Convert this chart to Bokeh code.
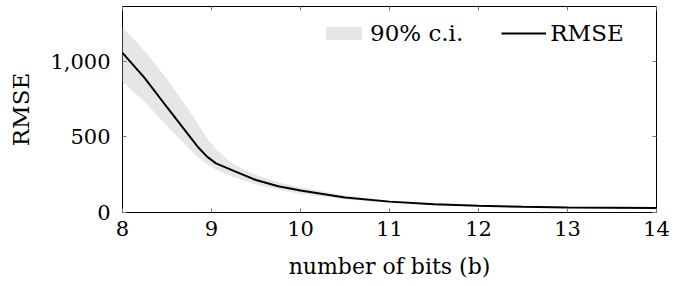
from bokeh.plotting import figure
from bokeh.models import (LinearAxis, FixedTicker, NumeralTickFormatter, Range1d,
                          Legend, LegendItem)
from bokeh.embed import file_html
from bokeh.resources import INLINE

# ---- data ----
bits = [8, 8.25, 8.5, 8.75, 8.85, 8.95, 9.05, 9.15, 9.25, 9.5, 9.75, 10, 10.5, 11, 11.5, 12, 12.5, 13, 13.5, 14]
rmse = [1057, 890, 697, 508, 432, 370, 325, 300, 276, 215, 174, 145, 100, 72, 55, 45, 38, 33, 31, 29]
ci_upper = [1229, 1070, 884, 676, 584, 492, 418, 368, 318, 248, 200, 168, 113, 80, 62, 50, 42, 37, 34, 32]
ci_lower = [865, 730, 572, 420, 365, 320, 285, 258, 235, 185, 150, 124, 88, 63, 48, 40, 34, 30, 28, 26]
x_ticks = [8, 9, 10, 11, 12, 13, 14]
y_ticks = [0, 500, 1000]

FONT = "DejaVu Serif"

p = figure(width=698, height=286, output_backend="svg", toolbar_location=None,
           x_range=Range1d(8, 14), y_range=Range1d(0, 1364),
           min_border_left=122, min_border_right=42, min_border_top=6, min_border_bottom=74,
           x_axis_label="number of bits (b)", y_axis_label="RMSE")
p.grid.visible = False
p.outline_line_color = "black"
p.outline_line_width = 1
p.background_fill_color = "white"
p.border_fill_color = "white"

band = p.varea(x=bits, y1=ci_lower, y2=ci_upper, fill_color="#e6e6e6", fill_alpha=1.0)
line = p.line(x=bits, y=rmse, line_color="black", line_width=2)

def style_axis(ax, ticks):
    ax.ticker = FixedTicker(ticks=ticks)
    ax.major_tick_in = 4
    ax.major_tick_out = 0
    ax.minor_tick_line_color = None
    ax.major_tick_line_color = "#777777"
    ax.axis_line_color = None
    ax.major_label_text_font = FONT
    ax.major_label_text_font_size = "21px"
    ax.major_label_text_color = "black"
    ax.axis_label_text_font = FONT
    ax.axis_label_text_font_size = "22px"
    ax.axis_label_text_font_style = "normal"
    ax.axis_label_text_color = "black"

xa = p.xaxis[0]
style_axis(xa, x_ticks)
xa.major_label_standoff = 8
xa.axis_label_standoff = 15

ya = p.yaxis[0]
style_axis(ya, y_ticks)
ya.formatter = NumeralTickFormatter(format="0,0")
ya.major_label_standoff = 12
ya.axis_label_standoff = 13
ya.axis_label_text_font_size = "23px"

# mirrored ticks on top and right (no labels)
top = LinearAxis()
style_axis(top, x_ticks)
top.major_label_text_color = None
top.major_label_text_font_size = "0px"
top.major_label_standoff = 0
p.add_layout(top, "above")

right = LinearAxis()
style_axis(right, y_ticks)
right.major_label_text_color = None
right.major_label_text_font_size = "0px"
right.major_label_standoff = 0
p.add_layout(right, "right")

legend = Legend(items=[LegendItem(label="90% c.i.", renderers=[band]),
                       LegendItem(label="RMSE", renderers=[line])],
                orientation="horizontal", location=(199, 166),
                glyph_width=45, glyph_height=16, label_standoff=4, spacing=38,
                padding=0, margin=0, border_line_color=None,
                background_fill_alpha=0,
                label_text_font=FONT, label_text_font_size="23px",
                label_text_color="black")
p.add_layout(legend, "center")

open("out.html", "w").write(file_html(p, INLINE))
